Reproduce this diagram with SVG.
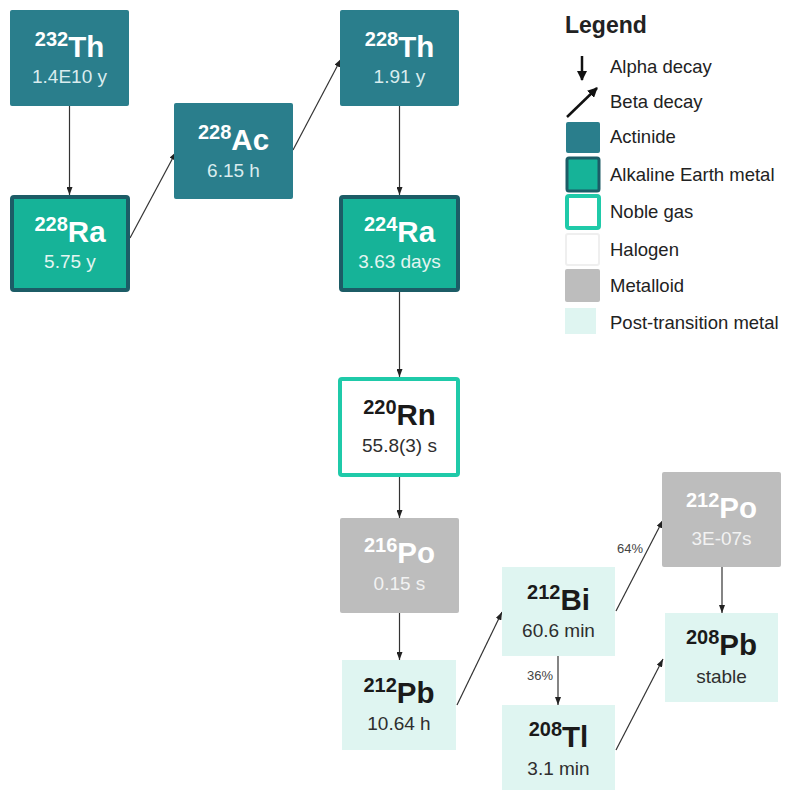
<svg xmlns="http://www.w3.org/2000/svg" width="786" height="790" viewBox="0 0 786 790">
<defs>
<style>
text{font-family:"Liberation Sans",Arial,sans-serif;}
.main{font-size:29.5px;font-weight:bold;}
.sup{font-size:20px;font-weight:bold;}
.sub{font-size:19px;}
.w{fill:#ffffff;}
.ws{fill:#d9ecee;}
.wg{fill:#e4f5f1;}
.wm{fill:#f2f2f2;}
.d{fill:#1a1a1a;}
.ds{fill:#2e2e2e;}
.act{fill:#2a7e8c;}
.alk{fill:#16b398;stroke:#1c5c66;stroke-width:4;}
.nob{fill:#ffffff;stroke:#1fcaa9;stroke-width:4;}
.met{fill:#bdbdbd;}
.pt{fill:#dff5f1;}
.edge{stroke:#333;stroke-width:1.2;fill:none;marker-end:url(#ah);}
.pct{font-size:13px;fill:#444;}
.leg{font-size:18.5px;fill:#222;}
</style>
<marker id="ah" viewBox="0 0 8 6" refX="8" refY="3" markerWidth="8" markerHeight="6" markerUnits="userSpaceOnUse" orient="auto">
<path d="M0,0 L8,3 L0,6 z" fill="#222"/>
</marker>
<marker id="ahb" viewBox="0 0 10 10" refX="9" refY="5" markerWidth="10" markerHeight="10" markerUnits="userSpaceOnUse" orient="auto">
<path d="M0,0 L10,5 L0,10 z" fill="#111"/>
</marker>
</defs>

<g id="connectors">
<line class="edge" x1="69.5" y1="106" x2="69.5" y2="195"/>
<line class="edge" x1="130" y1="238" x2="176" y2="152"/>
<line class="edge" x1="293" y1="150" x2="341" y2="59"/>
<line class="edge" x1="399.5" y1="106" x2="399.5" y2="195"/>
<line class="edge" x1="399.5" y1="292" x2="399.5" y2="377"/>
<line class="edge" x1="399.5" y1="477" x2="399.5" y2="518"/>
<line class="edge" x1="399.5" y1="613" x2="399.5" y2="660"/>
<line class="edge" x1="457" y1="705" x2="502" y2="612"/>
<line class="edge" x1="616" y1="611" x2="663" y2="520"/>
<line class="edge" x1="558" y1="656" x2="558" y2="705"/>
<line class="edge" x1="722" y1="567" x2="722" y2="613"/>
<line class="edge" x1="616" y1="750" x2="663" y2="659"/>
<text class="pct" x="617" y="553">64%</text>
<text class="pct" x="527" y="680">36%</text>
</g>

<g id="th232">
<rect class="act" x="10" y="10" width="119" height="96" rx="2"/>
<text class="main w" x="69.5" y="57" text-anchor="middle"><tspan class="sup" dy="-11">232</tspan><tspan dy="11">Th</tspan></text>
<text class="sub ws" x="69.5" y="83" text-anchor="middle">1.4E10 y</text>
</g>

<g id="ra228">
<rect class="alk" x="12" y="197" width="116" height="93" rx="2"/>
<text class="main w" x="70" y="242" text-anchor="middle"><tspan class="sup" dy="-11">228</tspan><tspan dy="11">Ra</tspan></text>
<text class="sub wg" x="70" y="268" text-anchor="middle">5.75 y</text>
</g>

<g id="ac228">
<rect class="act" x="174" y="103" width="119" height="96" rx="2"/>
<text class="main w" x="233.5" y="150" text-anchor="middle"><tspan class="sup" dy="-11">228</tspan><tspan dy="11">Ac</tspan></text>
<text class="sub ws" x="233.5" y="177" text-anchor="middle">6.15 h</text>
</g>

<g id="th228">
<rect class="act" x="340" y="10" width="119" height="96" rx="2"/>
<text class="main w" x="399.5" y="57" text-anchor="middle"><tspan class="sup" dy="-11">228</tspan><tspan dy="11">Th</tspan></text>
<text class="sub ws" x="399.5" y="83" text-anchor="middle">1.91 y</text>
</g>

<g id="ra224">
<rect class="alk" x="341" y="197" width="117" height="93" rx="2"/>
<text class="main w" x="399.5" y="242" text-anchor="middle"><tspan class="sup" dy="-11">224</tspan><tspan dy="11">Ra</tspan></text>
<text class="sub wg" x="399.5" y="268" text-anchor="middle">3.63 days</text>
</g>

<g id="rn220">
<rect class="nob" x="340" y="379" width="118" height="96" rx="2"/>
<text class="main d" x="399.5" y="425" text-anchor="middle"><tspan class="sup" dy="-11">220</tspan><tspan dy="11">Rn</tspan></text>
<text class="sub ds" x="399.5" y="452" text-anchor="middle">55.8(3) s</text>
</g>

<g id="po216">
<rect class="met" x="340" y="518" width="119" height="95" rx="2"/>
<text class="main w" x="399.5" y="563" text-anchor="middle"><tspan class="sup" dy="-11">216</tspan><tspan dy="11">Po</tspan></text>
<text class="sub wm" x="399.5" y="590" text-anchor="middle">0.15 s</text>
</g>

<g id="pb212">
<rect class="pt" x="342" y="660" width="114" height="90"/>
<text class="main d" x="399" y="703" text-anchor="middle"><tspan class="sup" dy="-11">212</tspan><tspan dy="11">Pb</tspan></text>
<text class="sub ds" x="399" y="730" text-anchor="middle">10.64 h</text>
</g>

<g id="bi212">
<rect class="pt" x="502" y="567" width="113" height="89"/>
<text class="main d" x="558.5" y="610" text-anchor="middle"><tspan class="sup" dy="-11">212</tspan><tspan dy="11">Bi</tspan></text>
<text class="sub ds" x="558.5" y="637" text-anchor="middle">60.6 min</text>
</g>

<g id="tl208">
<rect class="pt" x="502" y="705" width="113" height="87"/>
<text class="main d" x="558.5" y="747" text-anchor="middle"><tspan class="sup" dy="-11">208</tspan><tspan dy="11">Tl</tspan></text>
<text class="sub ds" x="558.5" y="775" text-anchor="middle">3.1 min</text>
</g>

<g id="po212">
<rect class="met" x="662" y="472" width="119" height="95" rx="2"/>
<text class="main w" x="721.5" y="518" text-anchor="middle"><tspan class="sup" dy="-11">212</tspan><tspan dy="11">Po</tspan></text>
<text class="sub wm" x="721.5" y="545" text-anchor="middle">3E-07s</text>
</g>

<g id="pb208">
<rect class="pt" x="665" y="613" width="113" height="89"/>
<text class="main d" x="721.5" y="655" text-anchor="middle"><tspan class="sup" dy="-11">208</tspan><tspan dy="11">Pb</tspan></text>
<text class="sub ds" x="721.5" y="683" text-anchor="middle">stable</text>
</g>

<g id="legend">
<text x="565" y="33" font-size="23" font-weight="bold" fill="#222">Legend</text>
<line x1="582" y1="56" x2="582" y2="80" stroke="#111" stroke-width="2.5" marker-end="url(#ahb)"/>
<text class="leg" x="610" y="73">Alpha decay</text>
<line x1="567" y1="117" x2="597" y2="88" stroke="#111" stroke-width="2.5" marker-end="url(#ahb)"/>
<text class="leg" x="610" y="108">Beta decay</text>
<rect class="act" x="566" y="122" width="34" height="31" rx="2"/>
<text class="leg" x="610" y="143">Actinide</text>
<rect class="alk" x="567" y="158" width="32" height="33" rx="2" style="stroke-width:3"/>
<text class="leg" x="610" y="181">Alkaline Earth metal</text>
<rect class="nob" x="567" y="196" width="32" height="32" rx="2"/>
<text class="leg" x="610" y="218">Noble gas</text>
<rect x="566" y="234" width="33" height="31" rx="2" fill="#ffffff" stroke="#efefef" stroke-width="2"/>
<text class="leg" x="610" y="256">Halogen</text>
<rect class="met" x="565" y="269" width="35" height="33" rx="2"/>
<text class="leg" x="610" y="292">Metalloid</text>
<rect class="pt" x="565" y="308" width="31" height="26"/>
<text class="leg" x="610" y="329">Post-transition metal</text>
</g>
</svg>
